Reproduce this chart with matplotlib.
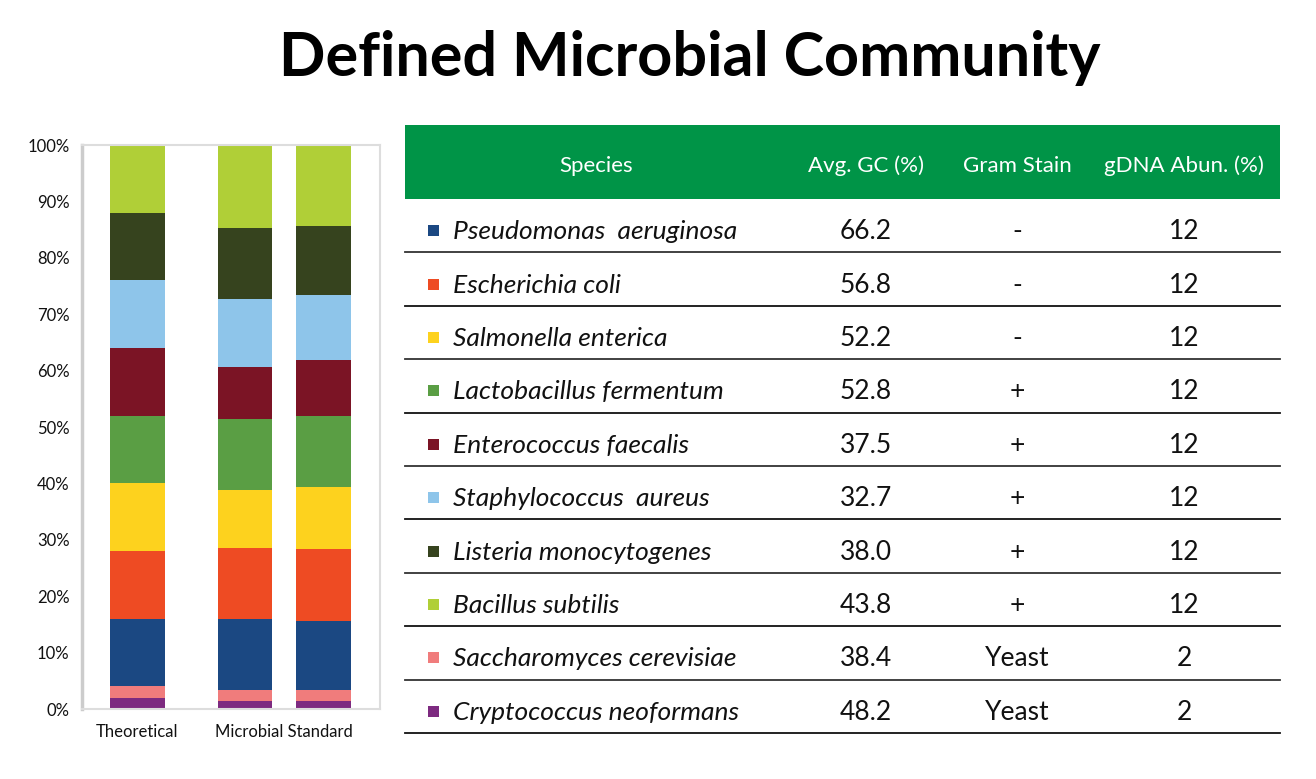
import numpy as np
import matplotlib
matplotlib.use("Agg")
import matplotlib.pyplot as plt
from matplotlib.patches import Rectangle

plt.rcParams['font.family'] = ['Lato', 'DejaVu Sans']

# data
species = ["Pseudomonas  aeruginosa", "Escherichia coli", "Salmonella enterica",
           "Lactobacillus fermentum", "Enterococcus faecalis", "Staphylococcus  aureus",
           "Listeria monocytogenes", "Bacillus subtilis", "Saccharomyces cerevisiae",
           "Cryptococcus neoformans"]
avg_gc = ["66.2", "56.8", "52.2", "52.8", "37.5", "32.7", "38.0", "43.8", "38.4", "48.2"]
gram = ["-", "-", "-", "+", "+", "+", "+", "+", "Yeast", "Yeast"]
abund = ["12", "12", "12", "12", "12", "12", "12", "12", "2", "2"]
colors = ["#1b4882", "#ee4b23", "#fdd21e", "#5a9e44", "#7b1425", "#8ec5ea",
          "#36431e", "#b0cf37", "#f07c7c", "#7d2a80"]

# bar composition (%) per column, same order as species
theoretical = [12, 12, 12, 12, 12, 12, 12, 12, 2, 2]
standard_1 = [12.5, 12.7, 10.2, 12.7, 9.1, 12.1, 12.5, 14.8, 1.9, 1.5]
standard_2 = [12.2, 12.7, 11.0, 12.6, 9.9, 11.6, 12.3, 14.3, 2.0, 1.4]
bars = [theoretical, standard_1, standard_2]

stack_order = [9, 8, 0, 1, 2, 3, 4, 5, 6, 7]  # bottom to top

fig = plt.figure(figsize=(13.16, 7.79), dpi=100)

# ---- stacked bars
ax = fig.add_axes([82/1316, 1-709/779, 298/1316, 564/779])
xpos = np.array([0, 1.37, 2.37])
bottoms = np.zeros(3)
for i in stack_order:
    vals = np.array([b[i] for b in bars])
    ax.bar(xpos, vals, bottom=bottoms, width=0.70, color=colors[i], edgecolor='none')
    bottoms += vals
ax.set_ylim(0, 100)
ax.set_xlim(-0.707, 3.09)
ax.set_yticks(np.arange(0, 101, 10))
ax.set_yticklabels([f"{v}%" for v in range(0, 101, 10)])
ax.set_xticks([xpos[0], (xpos[1] + xpos[2]) / 2])
ax.set_xticklabels(["Theoretical", "Microbial Standard"])
ax.tick_params(length=0, labelsize=12, colors='#111111')
ax.tick_params(axis='x', pad=11)
ax.tick_params(axis='y', pad=9)
for s in ax.spines.values():
    s.set_color('#dddddd')
    s.set_linewidth(1.5)
ax.spines['left'].set_color('#cccccc')
ax.spines['left'].set_linewidth(2.5)

# ---- title
fig.text(690/1316, 1-58/779, "Defined Microbial Community", ha='center', va='center',
         fontsize=44, fontweight='bold', color='black')

# ---- table
tx = fig.add_axes([0, 0, 1, 1])
tx.set_xlim(0, 1316)
tx.set_ylim(779, 0)
tx.axis('off')
tx.add_patch(Rectangle((405, 125), 875, 74, color='#009447', lw=0))
hdr_y = 166
col_x = [596, 866, 1017, 1184]
for x, h in zip(col_x, ["Species", "Avg. GC (%)", "Gram Stain", "gDNA Abun. (%)"]):
    tx.text(x, hdr_y, h, ha='center', va='center', color='white', fontsize=16)

row_top = 199
row_h = 53.4
for i, name in enumerate(species):
    yc = row_top + row_h * (i + 0.5)
    ty = yc + 6
    tx.add_patch(Rectangle((428, ty - 6.5), 11, 11, color=colors[i], lw=0))
    tx.text(453, ty, name, ha='left', va='center', fontsize=19, style='italic', color='#111111')
    tx.text(col_x[1], ty, avg_gc[i], ha='center', va='center', fontsize=19, color='#111111')
    tx.text(col_x[2], ty, gram[i], ha='center', va='center', fontsize=19, color='#111111')
    tx.text(col_x[3], ty, abund[i], ha='center', va='center', fontsize=19, color='#111111')
    yl = row_top + row_h * (i + 1)
    tx.plot([405, 1280], [yl, yl], color='#333333' if i % 2 == 0 else '#111111', lw=1.3)

fig.savefig("out.png", dpi=100)
